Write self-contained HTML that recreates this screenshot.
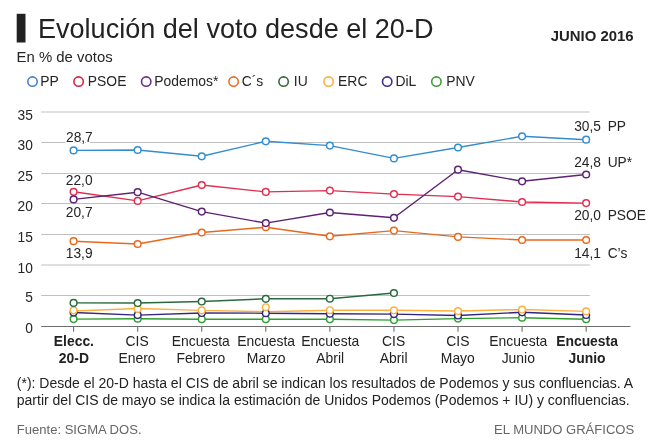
<!DOCTYPE html>
<html><head><meta charset="utf-8"><title>Evolución del voto desde el 20-D</title>
<style>
html,body{margin:0;padding:0;background:#fff;}
body{width:660px;height:448px;position:relative;overflow:hidden;font-family:"Liberation Sans",sans-serif;}
.t{position:absolute;white-space:nowrap;}
.h{-webkit-text-stroke:2.5px #fff;paint-order:stroke fill;}
svg{position:absolute;left:0;top:0;}
#txt{position:absolute;left:0;top:0;width:660px;height:448px;will-change:transform;}
</style></head><body>
<svg width="660" height="448" viewBox="0 0 660 448">
<rect x="16.7" y="13.8" width="8.8" height="28.7" fill="#222"/>
<line x1="41.2" x2="589.8" y1="112.00" y2="112.00" stroke="#bfbfbf" stroke-width="1"/>
<line x1="41.2" x2="589.8" y1="142.50" y2="142.50" stroke="#bfbfbf" stroke-width="1"/>
<line x1="41.2" x2="589.8" y1="173.50" y2="173.50" stroke="#bfbfbf" stroke-width="1"/>
<line x1="41.2" x2="589.8" y1="203.50" y2="203.50" stroke="#bfbfbf" stroke-width="1"/>
<line x1="41.2" x2="589.8" y1="234.50" y2="234.50" stroke="#bfbfbf" stroke-width="1"/>
<line x1="41.2" x2="589.8" y1="265.00" y2="265.00" stroke="#bfbfbf" stroke-width="1"/>
<line x1="41.2" x2="589.8" y1="295.50" y2="295.50" stroke="#bfbfbf" stroke-width="1"/>
<line x1="41.2" x2="630.5" y1="326.45" y2="326.45" stroke="#6e6e6e" stroke-width="1.1"/>
<line x1="73.6" x2="73.6" y1="326.45" y2="331.85" stroke="#6e6e6e" stroke-width="1.1"/>
<line x1="137.67" x2="137.67" y1="326.45" y2="331.85" stroke="#6e6e6e" stroke-width="1.1"/>
<line x1="201.74" x2="201.74" y1="326.45" y2="331.85" stroke="#6e6e6e" stroke-width="1.1"/>
<line x1="265.81" x2="265.81" y1="326.45" y2="331.85" stroke="#6e6e6e" stroke-width="1.1"/>
<line x1="329.88" x2="329.88" y1="326.45" y2="331.85" stroke="#6e6e6e" stroke-width="1.1"/>
<line x1="393.95" x2="393.95" y1="326.45" y2="331.85" stroke="#6e6e6e" stroke-width="1.1"/>
<line x1="458.02" x2="458.02" y1="326.45" y2="331.85" stroke="#6e6e6e" stroke-width="1.1"/>
<line x1="522.09" x2="522.09" y1="326.45" y2="331.85" stroke="#6e6e6e" stroke-width="1.1"/>
<line x1="586.16" x2="586.16" y1="326.45" y2="331.85" stroke="#6e6e6e" stroke-width="1.1"/>
<polyline points="73.6,319.1 137.67,318.7 201.74,319.2 265.81,319.2 329.88,319.2 393.95,320.1 458.02,318.6 522.09,317.7 586.16,319.2" fill="none" stroke="#2c9f2e" stroke-width="1.4" stroke-linejoin="round"/>
<polyline points="73.6,312.5 137.67,315.1 201.74,313.0 265.81,313.2 329.88,313.7 393.95,314.1 458.02,315.5 522.09,312.3 586.16,315.0" fill="none" stroke="#33267f" stroke-width="1.4" stroke-linejoin="round"/>
<polyline points="73.6,311.0 137.67,308.5 201.74,310.4 265.81,311.7 329.88,310.2 393.95,310.3 458.02,311.0 522.09,309.5 586.16,311.4" fill="none" stroke="#fbb03f" stroke-width="1.4" stroke-linejoin="round"/>
<polyline points="73.6,302.9 137.67,303.0 201.74,301.5 265.81,298.8 329.88,298.7 393.95,293.0" fill="none" stroke="#2a693e" stroke-width="1.4" stroke-linejoin="round"/>
<polyline points="73.6,241.2 137.67,244.0 201.74,232.5 265.81,227.2 329.88,236.3 393.95,230.6 458.02,236.9 522.09,240.0 586.16,240.0" fill="none" stroke="#ea681c" stroke-width="1.4" stroke-linejoin="round"/>
<polyline points="73.6,191.8 137.67,200.9 201.74,185.0 265.81,191.9 329.88,190.6 393.95,194.1 458.02,196.6 522.09,202.0 586.16,203.1" fill="none" stroke="#e12d50" stroke-width="1.4" stroke-linejoin="round"/>
<polyline points="73.6,199.4 137.67,192.2 201.74,211.6 265.81,223.1 329.88,212.5 393.95,217.8 458.02,169.7 522.09,181.3 586.16,174.5" fill="none" stroke="#5c2273" stroke-width="1.4" stroke-linejoin="round"/>
<polyline points="73.6,150.4 137.67,150.0 201.74,156.3 265.81,141.3 329.88,145.6 393.95,158.4 458.02,147.5 522.09,136.3 586.16,139.7" fill="none" stroke="#338dcf" stroke-width="1.4" stroke-linejoin="round"/>
<circle cx="73.6" cy="319.1" r="3.35" fill="#fff" stroke="#2c9f2e" stroke-width="1.45"/>
<circle cx="137.67" cy="318.7" r="3.35" fill="#fff" stroke="#2c9f2e" stroke-width="1.45"/>
<circle cx="201.74" cy="319.2" r="3.35" fill="#fff" stroke="#2c9f2e" stroke-width="1.45"/>
<circle cx="265.81" cy="319.2" r="3.35" fill="#fff" stroke="#2c9f2e" stroke-width="1.45"/>
<circle cx="329.88" cy="319.2" r="3.35" fill="#fff" stroke="#2c9f2e" stroke-width="1.45"/>
<circle cx="393.95" cy="320.1" r="3.35" fill="#fff" stroke="#2c9f2e" stroke-width="1.45"/>
<circle cx="458.02" cy="318.6" r="3.35" fill="#fff" stroke="#2c9f2e" stroke-width="1.45"/>
<circle cx="522.09" cy="317.7" r="3.35" fill="#fff" stroke="#2c9f2e" stroke-width="1.45"/>
<circle cx="586.16" cy="319.2" r="3.35" fill="#fff" stroke="#2c9f2e" stroke-width="1.45"/>
<circle cx="73.6" cy="312.5" r="3.35" fill="#fff" stroke="#33267f" stroke-width="1.45"/>
<circle cx="137.67" cy="315.1" r="3.35" fill="#fff" stroke="#33267f" stroke-width="1.45"/>
<circle cx="201.74" cy="313.0" r="3.35" fill="#fff" stroke="#33267f" stroke-width="1.45"/>
<circle cx="265.81" cy="313.2" r="3.35" fill="#fff" stroke="#33267f" stroke-width="1.45"/>
<circle cx="329.88" cy="313.7" r="3.35" fill="#fff" stroke="#33267f" stroke-width="1.45"/>
<circle cx="393.95" cy="314.1" r="3.35" fill="#fff" stroke="#33267f" stroke-width="1.45"/>
<circle cx="458.02" cy="315.5" r="3.35" fill="#fff" stroke="#33267f" stroke-width="1.45"/>
<circle cx="522.09" cy="312.3" r="3.35" fill="#fff" stroke="#33267f" stroke-width="1.45"/>
<circle cx="586.16" cy="315.0" r="3.35" fill="#fff" stroke="#33267f" stroke-width="1.45"/>
<circle cx="73.6" cy="310.3" r="3.35" fill="#fff" stroke="#fbb03f" stroke-width="1.45"/>
<circle cx="137.67" cy="308.9" r="3.35" fill="#fff" stroke="#fbb03f" stroke-width="1.45"/>
<circle cx="201.74" cy="310.4" r="3.35" fill="#fff" stroke="#fbb03f" stroke-width="1.45"/>
<circle cx="265.81" cy="307.2" r="3.35" fill="#fff" stroke="#fbb03f" stroke-width="1.45"/>
<circle cx="329.88" cy="310.2" r="3.35" fill="#fff" stroke="#fbb03f" stroke-width="1.45"/>
<circle cx="393.95" cy="310.3" r="3.35" fill="#fff" stroke="#fbb03f" stroke-width="1.45"/>
<circle cx="458.02" cy="311.0" r="3.35" fill="#fff" stroke="#fbb03f" stroke-width="1.45"/>
<circle cx="522.09" cy="309.5" r="3.35" fill="#fff" stroke="#fbb03f" stroke-width="1.45"/>
<circle cx="586.16" cy="311.4" r="3.35" fill="#fff" stroke="#fbb03f" stroke-width="1.45"/>
<circle cx="73.6" cy="302.9" r="3.35" fill="#fff" stroke="#2a693e" stroke-width="1.45"/>
<circle cx="137.67" cy="303.0" r="3.35" fill="#fff" stroke="#2a693e" stroke-width="1.45"/>
<circle cx="201.74" cy="301.5" r="3.35" fill="#fff" stroke="#2a693e" stroke-width="1.45"/>
<circle cx="265.81" cy="298.8" r="3.35" fill="#fff" stroke="#2a693e" stroke-width="1.45"/>
<circle cx="329.88" cy="298.7" r="3.35" fill="#fff" stroke="#2a693e" stroke-width="1.45"/>
<circle cx="393.95" cy="293.0" r="3.35" fill="#fff" stroke="#2a693e" stroke-width="1.45"/>
<circle cx="73.6" cy="241.2" r="3.35" fill="#fff" stroke="#ea681c" stroke-width="1.45"/>
<circle cx="137.67" cy="244.0" r="3.35" fill="#fff" stroke="#ea681c" stroke-width="1.45"/>
<circle cx="201.74" cy="232.5" r="3.35" fill="#fff" stroke="#ea681c" stroke-width="1.45"/>
<circle cx="265.81" cy="227.2" r="3.35" fill="#fff" stroke="#ea681c" stroke-width="1.45"/>
<circle cx="329.88" cy="236.3" r="3.35" fill="#fff" stroke="#ea681c" stroke-width="1.45"/>
<circle cx="393.95" cy="230.6" r="3.35" fill="#fff" stroke="#ea681c" stroke-width="1.45"/>
<circle cx="458.02" cy="236.9" r="3.35" fill="#fff" stroke="#ea681c" stroke-width="1.45"/>
<circle cx="522.09" cy="240.0" r="3.35" fill="#fff" stroke="#ea681c" stroke-width="1.45"/>
<circle cx="586.16" cy="240.0" r="3.35" fill="#fff" stroke="#ea681c" stroke-width="1.45"/>
<circle cx="73.6" cy="191.8" r="3.35" fill="#fff" stroke="#e12d50" stroke-width="1.45"/>
<circle cx="137.67" cy="200.9" r="3.35" fill="#fff" stroke="#e12d50" stroke-width="1.45"/>
<circle cx="201.74" cy="185.0" r="3.35" fill="#fff" stroke="#e12d50" stroke-width="1.45"/>
<circle cx="265.81" cy="191.9" r="3.35" fill="#fff" stroke="#e12d50" stroke-width="1.45"/>
<circle cx="329.88" cy="190.6" r="3.35" fill="#fff" stroke="#e12d50" stroke-width="1.45"/>
<circle cx="393.95" cy="194.1" r="3.35" fill="#fff" stroke="#e12d50" stroke-width="1.45"/>
<circle cx="458.02" cy="196.6" r="3.35" fill="#fff" stroke="#e12d50" stroke-width="1.45"/>
<circle cx="522.09" cy="202.0" r="3.35" fill="#fff" stroke="#e12d50" stroke-width="1.45"/>
<circle cx="586.16" cy="203.1" r="3.35" fill="#fff" stroke="#e12d50" stroke-width="1.45"/>
<circle cx="73.6" cy="199.4" r="3.35" fill="#fff" stroke="#5c2273" stroke-width="1.45"/>
<circle cx="137.67" cy="192.2" r="3.35" fill="#fff" stroke="#5c2273" stroke-width="1.45"/>
<circle cx="201.74" cy="211.6" r="3.35" fill="#fff" stroke="#5c2273" stroke-width="1.45"/>
<circle cx="265.81" cy="223.1" r="3.35" fill="#fff" stroke="#5c2273" stroke-width="1.45"/>
<circle cx="329.88" cy="212.5" r="3.35" fill="#fff" stroke="#5c2273" stroke-width="1.45"/>
<circle cx="393.95" cy="217.8" r="3.35" fill="#fff" stroke="#5c2273" stroke-width="1.45"/>
<circle cx="458.02" cy="169.7" r="3.35" fill="#fff" stroke="#5c2273" stroke-width="1.45"/>
<circle cx="522.09" cy="181.3" r="3.35" fill="#fff" stroke="#5c2273" stroke-width="1.45"/>
<circle cx="586.16" cy="174.5" r="3.35" fill="#fff" stroke="#5c2273" stroke-width="1.45"/>
<circle cx="73.6" cy="150.4" r="3.35" fill="#fff" stroke="#338dcf" stroke-width="1.45"/>
<circle cx="137.67" cy="150.0" r="3.35" fill="#fff" stroke="#338dcf" stroke-width="1.45"/>
<circle cx="201.74" cy="156.3" r="3.35" fill="#fff" stroke="#338dcf" stroke-width="1.45"/>
<circle cx="265.81" cy="141.3" r="3.35" fill="#fff" stroke="#338dcf" stroke-width="1.45"/>
<circle cx="329.88" cy="145.6" r="3.35" fill="#fff" stroke="#338dcf" stroke-width="1.45"/>
<circle cx="393.95" cy="158.4" r="3.35" fill="#fff" stroke="#338dcf" stroke-width="1.45"/>
<circle cx="458.02" cy="147.5" r="3.35" fill="#fff" stroke="#338dcf" stroke-width="1.45"/>
<circle cx="522.09" cy="136.3" r="3.35" fill="#fff" stroke="#338dcf" stroke-width="1.45"/>
<circle cx="586.16" cy="139.7" r="3.35" fill="#fff" stroke="#338dcf" stroke-width="1.45"/>
<circle cx="32.5" cy="81.55" r="4.7" fill="#fff" stroke="#4584cf" stroke-width="1.6"/>
<circle cx="78.6" cy="81.55" r="4.7" fill="#fff" stroke="#cf2848" stroke-width="1.6"/>
<circle cx="146.2" cy="81.55" r="4.7" fill="#fff" stroke="#6c2f8a" stroke-width="1.6"/>
<circle cx="233.6" cy="81.55" r="4.7" fill="#fff" stroke="#e8701f" stroke-width="1.6"/>
<circle cx="283.6" cy="81.55" r="4.7" fill="#fff" stroke="#35693a" stroke-width="1.6"/>
<circle cx="328.6" cy="81.55" r="4.7" fill="#fff" stroke="#f6b244" stroke-width="1.6"/>
<circle cx="387.2" cy="81.55" r="4.7" fill="#fff" stroke="#383090" stroke-width="1.6"/>
<circle cx="436.4" cy="81.55" r="4.7" fill="#fff" stroke="#44993a" stroke-width="1.6"/>
</svg>
<div id="txt">
<div class="t" id="title" style="font-size:27.05px;top:16.00px;line-height:27.05px;left:38.0px;color:#222;">Evolución del voto desde el 20-D</div>
<div class="t" id="junio" style="font-size:14.9px;top:29.00px;line-height:14.9px;right:26.399999999999977px;color:#222;font-weight:bold;">JUNIO 2016</div>
<div class="t" id="sub" style="font-size:14.9px;top:50.00px;line-height:14.9px;left:16.6px;color:#252525;">En % de votos</div>
<div class="t" id="lg_PP" style="font-size:13.9px;top:75.00px;line-height:13.9px;left:40.3px;color:#252525;">PP</div>
<div class="t" id="lg_PSOE" style="font-size:13.9px;top:75.00px;line-height:13.9px;left:87.8px;color:#252525;">PSOE</div>
<div class="t" id="lg_Pod" style="font-size:13.9px;top:75.00px;line-height:13.9px;left:154.3px;color:#252525;">Podemos*</div>
<div class="t" id="lg_Cs" style="font-size:13.9px;top:75.00px;line-height:13.9px;left:241.7px;color:#252525;">C´s</div>
<div class="t" id="lg_IU" style="font-size:13.9px;top:75.00px;line-height:13.9px;left:293.8px;color:#252525;">IU</div>
<div class="t" id="lg_ERC" style="font-size:13.9px;top:75.00px;line-height:13.9px;left:338.1px;color:#252525;">ERC</div>
<div class="t" id="lg_DiL" style="font-size:13.9px;top:75.00px;line-height:13.9px;left:395.4px;color:#252525;">DiL</div>
<div class="t" id="lg_PNV" style="font-size:13.9px;top:75.00px;line-height:13.9px;left:446.3px;color:#252525;">PNV</div>
<div class="t" id="y35" style="font-size:13.75px;top:109.00px;line-height:13.75px;right:627.2px;color:#252525;">35</div>
<div class="t" id="y30" style="font-size:13.75px;top:139.00px;line-height:13.75px;right:627.2px;color:#252525;">30</div>
<div class="t" id="y25" style="font-size:13.75px;top:170.00px;line-height:13.75px;right:627.2px;color:#252525;">25</div>
<div class="t" id="y20" style="font-size:13.75px;top:200.00px;line-height:13.75px;right:627.2px;color:#252525;">20</div>
<div class="t" id="y15" style="font-size:13.75px;top:231.00px;line-height:13.75px;right:627.2px;color:#252525;">15</div>
<div class="t" id="y10" style="font-size:13.75px;top:262.00px;line-height:13.75px;right:627.2px;color:#252525;">10</div>
<div class="t" id="y5" style="font-size:13.75px;top:291.00px;line-height:13.75px;right:627.2px;color:#252525;">5</div>
<div class="t" id="y0" style="font-size:13.75px;top:322.00px;line-height:13.75px;right:627.2px;color:#252525;">0</div>
<div class="t" id="xa0" style="font-size:13.9px;top:335.00px;line-height:13.9px;left:-26.10000000000001px;width:200px;text-align:center;color:#222;font-weight:bold;">Elecc.</div>
<div class="t" id="xb0" style="font-size:13.9px;top:352.00px;line-height:13.9px;left:-26.10000000000001px;width:200px;text-align:center;color:#222;font-weight:bold;">20-D</div>
<div class="t" id="xa1" style="font-size:13.9px;top:335.00px;line-height:13.9px;left:37.06999999999999px;width:200px;text-align:center;color:#222;">CIS</div>
<div class="t" id="xb1" style="font-size:13.9px;top:352.00px;line-height:13.9px;left:37.06999999999999px;width:200px;text-align:center;color:#222;">Enero</div>
<div class="t" id="xa2" style="font-size:13.9px;top:335.00px;line-height:13.9px;left:100.84px;width:200px;text-align:center;color:#222;">Encuesta</div>
<div class="t" id="xb2" style="font-size:13.9px;top:352.00px;line-height:13.9px;left:100.84px;width:200px;text-align:center;color:#222;">Febrero</div>
<div class="t" id="xa3" style="font-size:13.9px;top:335.00px;line-height:13.9px;left:166.11px;width:200px;text-align:center;color:#222;">Encuesta</div>
<div class="t" id="xb3" style="font-size:13.9px;top:352.00px;line-height:13.9px;left:166.11px;width:200px;text-align:center;color:#222;">Marzo</div>
<div class="t" id="xa4" style="font-size:13.9px;top:335.00px;line-height:13.9px;left:230.27999999999997px;width:200px;text-align:center;color:#222;">Encuesta</div>
<div class="t" id="xb4" style="font-size:13.9px;top:352.00px;line-height:13.9px;left:230.27999999999997px;width:200px;text-align:center;color:#222;">Abril</div>
<div class="t" id="xa5" style="font-size:13.9px;top:335.00px;line-height:13.9px;left:293.65px;width:200px;text-align:center;color:#222;">CIS</div>
<div class="t" id="xb5" style="font-size:13.9px;top:352.00px;line-height:13.9px;left:293.65px;width:200px;text-align:center;color:#222;">Abril</div>
<div class="t" id="xa6" style="font-size:13.9px;top:335.00px;line-height:13.9px;left:357.82px;width:200px;text-align:center;color:#222;">CIS</div>
<div class="t" id="xb6" style="font-size:13.9px;top:352.00px;line-height:13.9px;left:357.82px;width:200px;text-align:center;color:#222;">Mayo</div>
<div class="t" id="xa7" style="font-size:13.9px;top:335.00px;line-height:13.9px;left:418.2900000000001px;width:200px;text-align:center;color:#222;">Encuesta</div>
<div class="t" id="xb7" style="font-size:13.9px;top:352.00px;line-height:13.9px;left:418.2900000000001px;width:200px;text-align:center;color:#222;">Junio</div>
<div class="t" id="xa8" style="font-size:13.9px;top:335.00px;line-height:13.9px;left:487.05999999999995px;width:200px;text-align:center;color:#222;font-weight:bold;">Encuesta</div>
<div class="t" id="xb8" style="font-size:13.9px;top:352.00px;line-height:13.9px;left:487.05999999999995px;width:200px;text-align:center;color:#222;font-weight:bold;">Junio</div>
<div class="t h" id="d1" style="font-size:13.75px;top:131.00px;line-height:13.75px;left:66.0px;color:#252525;">28,7</div>
<div class="t h" id="d2" style="font-size:13.75px;top:174.00px;line-height:13.75px;left:65.8px;color:#252525;">22,0</div>
<div class="t h" id="d3" style="font-size:13.75px;top:206.00px;line-height:13.75px;left:65.8px;color:#252525;">20,7</div>
<div class="t h" id="d4" style="font-size:13.75px;top:247.00px;line-height:13.75px;left:65.8px;color:#252525;">13,9</div>
<div class="t h" id="r0" style="font-size:13.75px;top:120.00px;line-height:13.75px;left:574.2px;color:#252525;">30,5</div>
<div class="t h" id="n0" style="font-size:13.75px;top:120.00px;line-height:13.75px;left:607.7px;color:#252525;">PP</div>
<div class="t h" id="r1" style="font-size:13.75px;top:156.00px;line-height:13.75px;left:574.2px;color:#252525;">24,8</div>
<div class="t h" id="n1" style="font-size:13.75px;top:156.00px;line-height:13.75px;left:607.7px;color:#252525;">UP*</div>
<div class="t h" id="r2" style="font-size:13.75px;top:209.00px;line-height:13.75px;left:574.2px;color:#252525;">20,0</div>
<div class="t h" id="n2" style="font-size:13.75px;top:209.00px;line-height:13.75px;left:607.7px;color:#252525;">PSOE</div>
<div class="t h" id="r3" style="font-size:13.75px;top:247.00px;line-height:13.75px;left:574.2px;color:#252525;">14,1</div>
<div class="t h" id="n3" style="font-size:13.75px;top:247.00px;line-height:13.75px;left:607.7px;color:#252525;">C’s</div>
<div class="t" id="f1" style="font-size:14.0px;top:376.00px;line-height:14.0px;left:16.8px;color:#222;">(*): Desde el 20-D hasta el CIS de abril se indican los resultados de Podemos y sus confluencias. A</div>
<div class="t" id="f2" style="font-size:14.0px;top:393.00px;line-height:14.0px;left:16.8px;color:#222;">partir del CIS de mayo se indica la estimación de Unidos Podemos (Podemos + IU) y confluencias.</div>
<div class="t" id="src" style="font-size:13.05px;top:423.00px;line-height:13.05px;left:16.8px;color:#666;">Fuente: SIGMA DOS.</div>
<div class="t" id="emg" style="font-size:13.05px;top:423.00px;line-height:13.05px;right:25.799999999999955px;color:#666;">EL MUNDO GRÁFICOS</div>
</div>
</body></html>
